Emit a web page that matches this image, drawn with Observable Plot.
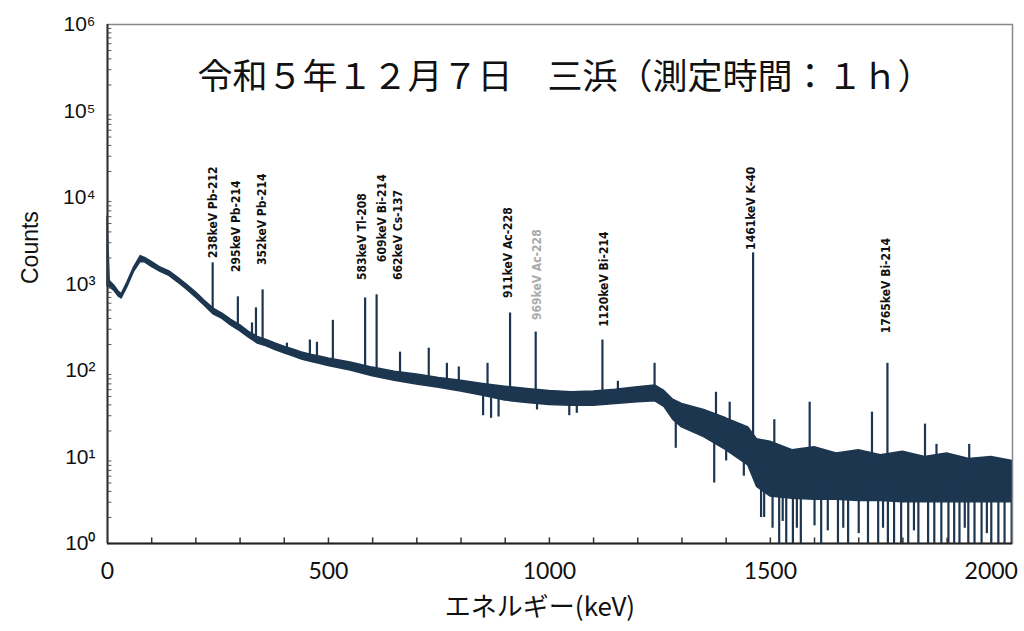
<!DOCTYPE html>
<html><head><meta charset="utf-8">
<script src="https://cdn.jsdelivr.net/npm/d3@7"></script>
<script src="https://cdn.jsdelivr.net/npm/@observablehq/plot@0.6"></script>
<style>body{margin:0;background:#fff;}</style>
</head><body><div id="chart"></div>
<script>
// Background continuum (band envelope), keV and counts
const energy =     [0,   5,   15,  25,  32,  45,   60,   75,   85,   100,  120,  140,  160,  180, 200, 220, 240, 260, 280, 300, 320, 340, 360, 380, 400, 420, 440, 460, 480, 500, 550, 600, 650, 700, 750, 800, 850, 900, 950, 1000, 1050, 1100, 1150, 1200, 1240, 1260, 1280, 1300, 1350, 1400, 1450, 1470, 1500, 1550, 1600, 1650, 1700, 1750, 1800, 1850, 1900, 1950, 2000, 2048];
const countsHigh = [6000,1080,960, 820, 760, 1040, 1550, 2100, 2000, 1800, 1550, 1400, 1180, 980, 800, 640, 520, 455, 385, 335, 280, 245, 225, 205, 188, 175, 162, 152, 145, 138, 124, 108, 97,  90,  82,  76,  70,  65,  61,  58,   56,   57,   60,   64,   67,   58,   46,   41,   35,   28,   22,   16,   15,   12,   13,   11,   12,   10.5, 11.5, 10,   11,   9.5,  10,   9];
const countsLow =  [950, 920, 840, 720, 680, 920,  1380, 1800, 1780, 1580, 1380, 1240, 1040, 860, 700, 560, 445, 395, 330, 285, 240, 205, 190, 172, 158, 146, 134, 126, 120, 113, 100, 86,  76,  69,  63,  57,  51,  45,  42,  40,   39,   39,   41,   43,   44,   38,   27,   22,   17,   12,   8,    4.5,  3.5,  3.3,  3.2,  3.2,  3.1,  3.1,  3,    3,    3,    3,    3,    3];

// Photopeaks: energy (keV), peak top counts, continuum counts under it
const peakEnergy = [238,  270, 295, 327, 336, 351, 406, 458, 474, 510, 583, 609, 662, 727, 768, 795, 860, 911, 969, 1120, 1155, 1238, 1312, 1377, 1408, 1461, 1509, 1589, 1730, 1765, 1850, 1876, 1950];
const peakTop =    [1755, 415, 710, 355, 530, 855, 207, 225, 212, 380, 690, 750, 163, 181, 121, 110, 121, 462, 278, 225,  75,   121,  38,   56,   43,   2290, 27,   43,   33,   121,  24,   14,   14];
const peakBase =   [480,  370, 310, 260, 235, 215, 170, 148, 140, 130, 105, 100, 85,  76,  70,  68,  60,  55,  50,  48,   50,   55,   30,   22,   19,   15,   10,   9,    8,    8,    7,    7,    6];

// Channels that drop below the continuum (zero counts reach the axis)
const dipEnergy = [850, 868, 885, 972, 1045, 1062, 1286, 1373, 1400, 1440, 1479, 1486, 1505, 1520, 1528, 1536, 1551, 1560, 1569, 1600, 1615, 1630, 1653, 1665, 1676, 1700, 1721, 1744, 1755, 1766, 1780, 1796, 1812, 1825, 1835, 1857, 1871, 1887, 1903, 1916, 1928, 1940, 1948, 1962, 1978, 1990, 2000, 2016, 2030, 2046];
const dipFloor =  [30,  28,  29,  35,  30,   32,   12.6, 5,    9,    6,    2,    2,    1.5,  1,    1.8,  1,    1,    1.5,  1,    1.6,  1,    1.4,  1,    1.5,  1,    1.3,  1,    1,    1.5,  1,    1,    1,    1,    1.4,  1,    1,    1,    1,    1,    1,    1,    1.5,  1,    1,    1,    1.3,  1,    1,    1,    1];
const dipTop =    [50,  48,  48,  45,  42,   42,   30,   15,   15,   12,   8,    8,    6,    5,    5,    5,    5,    5,    5,    5,    5,    5,    5,    5,    5,    5,    5,    5,    5,    5,    5,    5,    5,    5,    5,    5,    5,    5,    5,    5,    5,    5,    5,    5,    5,    5,    5,    5,    5,    5];

// Nuclide labels
const labelText =   ["238keV Pb-212", "295keV Pb-214", "352keV Pb-214", "583keV Tl-208", "609keV Bi-214", "662keV Cs-137", "911keV Ac-228", "969keV Ac-228", "1120keV Bi-214", "1461keV K-40", "1765keV Bi-214"];
const labelEnergy = [238, 292, 349, 576, 621, 658, 907, 973, 1123, 1456, 1762];
const labelCount =  [2000, 1380, 1660, 1110, 1790, 1110, 690, 384, 320, 2480, 270];
const labelFaded =  [false, false, false, false, false, false, false, true, false, false, false];

const yTicks = [1, 10, 100, 1000, 10000, 100000, 1000000];
const xTicks = [0, 500, 1000, 1500, 2000];
const xMinorTicks = [100,200,300,400,500,600,700,800,900,1000,1100,1200,1300,1400,1500,1600,1700,1800,1900,2000];
const yMinorTicks = [];
for (let d = 1; d < 1e6; d *= 10) for (let m = 2; m <= 9; m++) yMinorTicks.push(d * m);

const titleText = "令和５年１２月７日　三浜（測定時間：１ｈ）";
const xLabel = "エネルギー(keV)";
const yLabel = "Counts";

const band = energy.map((e, i) => ({e, lo: countsLow[i], hi: countsHigh[i]}));
const peaks = peakEnergy.map((e, i) => ({e, top: peakTop[i], base: peakBase[i]}));
const dips = dipEnergy.map((e, i) => ({e, floor: dipFloor[i], top: dipTop[i]}));
const labels = labelText.map((t, i) => ({t, e: labelEnergy[i], c: labelCount[i], faded: labelFaded[i]}));

const sup = {"0":"⁰","1":"¹","2":"²","3":"³","4":"⁴","5":"⁵","6":"⁶"};
const ink = "#1d3650";

const chart = Plot.plot({
  width: 1024, height: 631,
  marginLeft: 107, marginRight: 12, marginTop: 24, marginBottom: 88,
  style: {fontFamily: "'Liberation Sans', Arial, sans-serif", background: "#fff", color: "#111", overflow: "visible"},
  x: {domain: [0, 2048], label: null},
  y: {type: "log", domain: [1, 1e6], label: null},
  marks: [
    Plot.areaY(band, {x: "e", y1: "lo", y2: "hi", fill: ink, stroke: ink, strokeWidth: 1.5}),
    Plot.ruleX(peaks, {x: "e", y1: "base", y2: "top", stroke: ink, strokeWidth: 2.2}),
    Plot.ruleX(dips, {x: "e", y1: "floor", y2: "top", stroke: ink, strokeWidth: 2.2}),
    Plot.ruleY(yMinorTicks, {y: d => d, x1: 0, x2: 10, stroke: "#555", strokeWidth: 1}),
    Plot.ruleX(xMinorTicks, {x: d => d, y1: 1, y2: 1.16, stroke: "#333", strokeWidth: 1.5}),
    Plot.frame({stroke: "#888", strokeWidth: 1.5}),
    Plot.ruleX([0], {stroke: "#333", strokeWidth: 2}),
    Plot.ruleY([1], {stroke: "#222", strokeWidth: 2}),
    Plot.axisY(yTicks, {label: null, tickSize: 0, tickPadding: 12, fontSize: 21, tickFormat: d => "10" + sup[String(Math.round(Math.log10(d)))]}),
    Plot.axisX(xTicks, {label: null, tickSize: 0, tickPadding: 19, fontSize: 23, fontFamily: "Lato, sans-serif", tickFormat: d => String(d)}),
    Plot.text(labels, {x: "e", y: "c", text: "t", rotate: -90, textAnchor: "start", fontSize: 12, fontWeight: "bold",
      fontFamily: "'Liberation Sans Narrow', 'DejaVu Sans Condensed', sans-serif",
      fill: d => d.faded ? "#aaa" : "#111"}),
    Plot.text([titleText], {frameAnchor: "top", dy: 40, dx: 5, fontSize: 35, fill: "#111", fontFamily: "'Noto Sans CJK JP', sans-serif"}),
    Plot.text([xLabel], {frameAnchor: "bottom", dy: 72, dx: -20, fontSize: 26, fill: "#111", fontFamily: "'Noto Sans CJK JP', sans-serif"}),
    Plot.text([yLabel], {frameAnchor: "left", dx: -77, rotate: -90, fontSize: 23, fill: "#111", fontFamily: "'Liberation Sans', Arial, sans-serif"})
  ]
});
document.getElementById("chart").appendChild(chart);
</script>
</body></html>
